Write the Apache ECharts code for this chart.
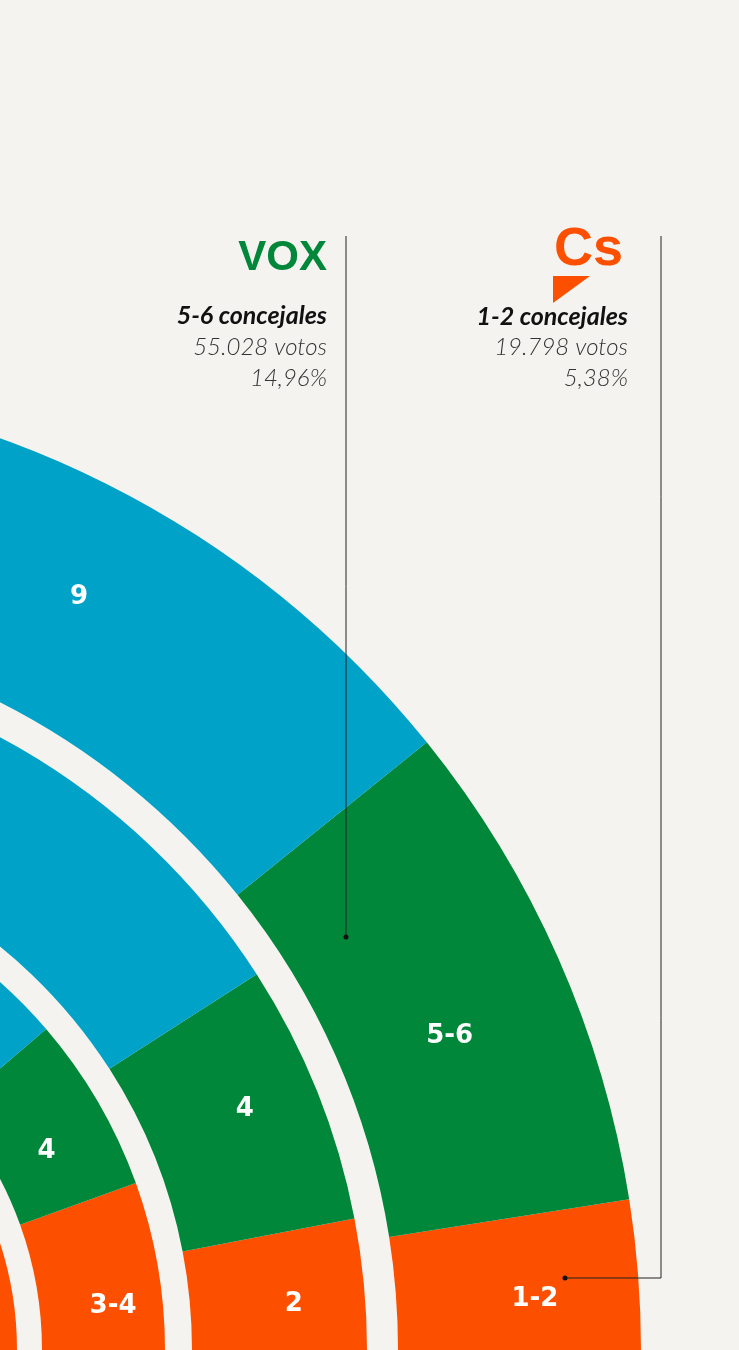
<!DOCTYPE html>
<html lang="es">
<head>
<meta charset="utf-8">
<title>Concejales</title>
<script src="https://cdn.jsdelivr.net/npm/echarts@6/dist/echarts.min.js"></script>
<style>
  html, body { margin: 0; padding: 0; background: #f4f3ef; }
  #chart { width: 739px; height: 1350px; }
</style>
</head>
<body>
<div id="chart"></div>
<script>
// ---------- DATA ----------
const partidos = ['Cs', 'Vox', 'PP', 'Resto'];
const totalEscanos = 33;
// seats per ring, outer to inner
const anilloExterior = [1.64, 5.48, 9, 16.88];
const anilloSegundo  = [2, 4, 10, 17];
const anilloTercero  = [3.63, 3.82, 10, 15.55];
const anilloInterior = [4, 4, 10, 15];
const etiquetasExterior = ['1-2', '5-6', '9', ''];
const etiquetasSegundo  = ['2', '4', '', ''];
const etiquetasTercero  = ['3-4', '4', '', ''];
const etiquetasInterior = ['', '', '', ''];
// annotations
const voxTitulo = 'VOX';
const voxTextos = ['5-6 concejales', '55.028 votos', '14,96%'];
const csTitulo = 'Cs';
const csTextos = ['1-2 concejales', '19.798 votos', '5,38%'];

// ---------- STYLE ----------
const colores = { Cs: '#fc5000', Vox: '#00873a', PP: '#00a2c8', Resto: '#e2001a' };
const BG = '#f4f3ef';
const CENTER = [-328, 1350];
const labelFont = { color: '#ffffff', fontFamily: '"DejaVu Sans", "Noto Sans", sans-serif', fontWeight: 'bold', fontSize: 26 };

function ring(values, labels, radius, offsets) {
  const data = values.map((v, i) => ({
    name: partidos[i],
    value: v,
    itemStyle: { color: colores[partidos[i]] },
    label: { show: labels[i] !== '', formatter: labels[i] }
  }));
  data.push({ name: 'hidden', value: totalEscanos, itemStyle: { color: 'rgba(0,0,0,0)' }, label: { show: false } });
  return {
    type: 'pie',
    center: CENTER,
    radius: radius,
    startAngle: 0,
    clockwise: false,
    avoidLabelOverlap: false,
    silent: true,
    animation: false,
    emphasis: { disabled: true },
    itemStyle: { borderWidth: 0 },
    label: Object.assign({ position: 'inside' }, labelFont),
    labelLine: { show: false },
    labelLayout: function (p) {
      const o = offsets[p.dataIndex] || [0, 0];
      return { dx: o[0], dy: o[1] };
    },
    data: data
  };
}

const chart = echarts.init(document.getElementById('chart'), null, { renderer: 'canvas' });

const txtItalic = (text, x, y, weight, size, color) => ({
  type: 'text', x: x, y: y, z: 100,
  style: {
    text: text, fill: color,
    font: 'italic ' + weight + ' ' + size + 'px Lato, "Noto Sans", sans-serif',
    align: 'right', textAlign: 'right', verticalAlign: 'middle', textVerticalAlign: 'middle'
  }
});

const graphics = [
  // VOX block
  { type: 'text', x: 327, y: 258, z: 100, style: { text: voxTitulo, fill: '#00873a', font: 'bold 42px "Liberation Sans", Arial, sans-serif', align: 'right', textAlign: 'right', verticalAlign: 'middle', textVerticalAlign: 'middle' } },
  txtItalic(voxTextos[0], 327, 316, 'bold', 25, '#111111'),
  txtItalic(voxTextos[1], 327, 347, '300', 24, '#333333'),
  txtItalic(voxTextos[2], 327, 378, '300', 24, '#333333'),
  // Cs block
  { type: 'text', x: 623, y: 250, z: 100, style: { text: csTitulo, fill: '#fc5000', font: 'bold 54px "Liberation Sans", Arial, sans-serif', align: 'right', textAlign: 'right', verticalAlign: 'middle', textVerticalAlign: 'middle' } },
  { type: 'polygon', z: 100, shape: { points: [[553, 276], [590, 276], [553, 303]] }, style: { fill: '#fc5000' } },
  txtItalic(csTextos[0], 628, 317, 'bold', 25, '#111111'),
  txtItalic(csTextos[1], 628, 347, '300', 24, '#333333'),
  txtItalic(csTextos[2], 628, 378, '300', 24, '#333333'),
  // connector lines
  { type: 'line', z: 100, shape: { x1: 346, y1: 236, x2: 346, y2: 937 }, style: { stroke: '#222', lineWidth: 1 } },
  { type: 'circle', z: 100, shape: { cx: 346, cy: 937, r: 2.5 }, style: { fill: '#111' } },
  { type: 'polyline', z: 100, shape: { points: [[661, 236], [661, 1278], [565, 1278]] }, style: { stroke: '#222', lineWidth: 1, fill: null } },
  { type: 'circle', z: 100, shape: { cx: 565, cy: 1278, r: 2.5 }, style: { fill: '#111' } }
];

chart.setOption({
  backgroundColor: BG,
  animation: false,
  series: [
    ring(anilloExterior, etiquetasExterior, [726, 969], [[15, 16], [0, 31], [26, 8]]),
    ring(anilloSegundo, etiquetasSegundo, [520, 695], [[14, 12], [6, -14]]),
    ring(anilloTercero, etiquetasTercero, [370, 493], [[13, 31], [-1, 20]]),
    ring(anilloInterior, etiquetasInterior, [220, 345], [])
  ],
  graphic: graphics
});
</script>
</body>
</html>
